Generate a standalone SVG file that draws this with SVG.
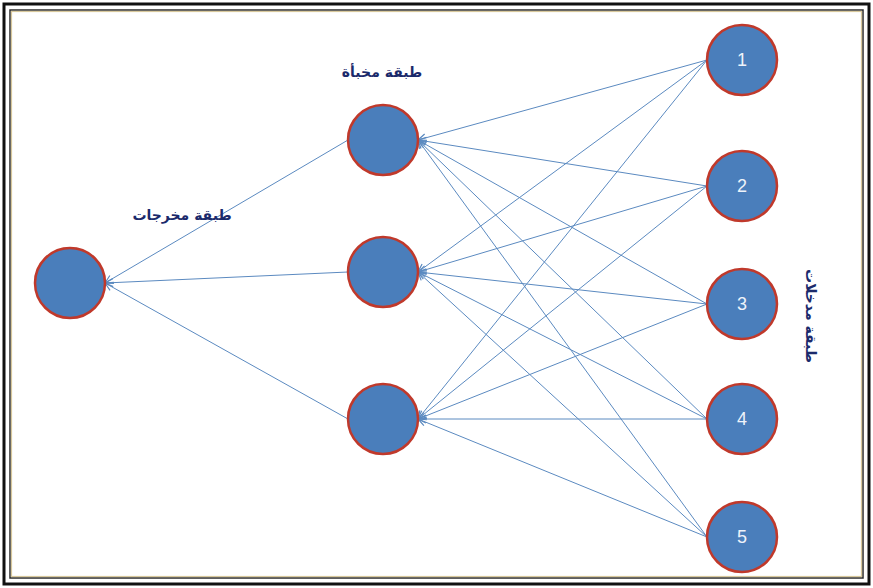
<svg xmlns="http://www.w3.org/2000/svg" width="873" height="588" viewBox="0 0 873 588">
<style>
.node{fill:#4a7ebb;stroke:#c0392b;stroke-width:2.5}
.num{font-family:"Liberation Sans",Arial,sans-serif;font-size:18px;fill:#eef3fa;text-anchor:middle}
.lbl{font-family:"DejaVu Sans",sans-serif;font-size:14px;font-weight:bold;fill:#1b2a6b;text-anchor:middle}
.edge{stroke:#5b8ac0;stroke-width:1;fill:none;marker-end:url(#arr)}
</style>
<defs>
<marker id="arr" markerWidth="10" markerHeight="10" refX="9" refY="5" orient="auto" markerUnits="userSpaceOnUse">
<path d="M1,1 L9,5 L1,9" fill="none" stroke="#5b8ac0" stroke-width="1.2"/>
</marker>
</defs>
<rect x="0" y="0" width="873" height="588" fill="#ffffff"/>
<rect x="4" y="4" width="865" height="580" fill="none" stroke="#111" stroke-width="3"/>
<rect x="10" y="10" width="853" height="568" fill="#ffffff" stroke="#2a2a2a" stroke-width="1.5"/>
<rect x="11.5" y="11.5" width="850" height="565" fill="none" stroke="#d8c89c" stroke-width="1.2"/>
<g id="connectors">
<line class="edge" x1="707" y1="60" x2="418" y2="140"/>
<line class="edge" x1="707" y1="60" x2="418" y2="272"/>
<line class="edge" x1="707" y1="60" x2="418" y2="419"/>
<line class="edge" x1="707" y1="186" x2="418" y2="140"/>
<line class="edge" x1="707" y1="186" x2="418" y2="272"/>
<line class="edge" x1="707" y1="186" x2="418" y2="419"/>
<line class="edge" x1="707" y1="304" x2="418" y2="140"/>
<line class="edge" x1="707" y1="304" x2="418" y2="272"/>
<line class="edge" x1="707" y1="304" x2="418" y2="419"/>
<line class="edge" x1="707" y1="419" x2="418" y2="140"/>
<line class="edge" x1="707" y1="419" x2="418" y2="272"/>
<line class="edge" x1="707" y1="419" x2="418" y2="419"/>
<line class="edge" x1="707" y1="537" x2="418" y2="140"/>
<line class="edge" x1="707" y1="537" x2="418" y2="272"/>
<line class="edge" x1="707" y1="537" x2="418" y2="419"/>
<line class="edge" x1="348" y1="140" x2="105" y2="283"/>
<line class="edge" x1="348" y1="272" x2="105" y2="283"/>
<line class="edge" x1="348" y1="419" x2="105" y2="283"/>
</g>
<g id="output">
<circle class="node" cx="70" cy="283" r="35"/>
<text class="lbl" x="182" y="220">طبقة مخرجات</text>
</g>
<g id="hidden1">
<circle class="node" cx="383" cy="140" r="35"/>
<text class="lbl" x="382" y="77">طبقة مخبأة</text>
</g>
<g id="hidden2"><circle class="node" cx="383" cy="272" r="35"/></g>
<g id="hidden3"><circle class="node" cx="383" cy="419" r="35"/></g>
<g id="in1"><circle class="node" cx="742" cy="60" r="35"/><text class="num" x="742" y="66">1</text></g>
<g id="in2"><circle class="node" cx="742" cy="186" r="35"/><text class="num" x="742" y="192">2</text></g>
<g id="in3"><circle class="node" cx="742" cy="304" r="35"/><text class="num" x="742" y="310">3</text></g>
<g id="in4"><circle class="node" cx="742" cy="419" r="35"/><text class="num" x="742" y="425">4</text></g>
<g id="in5"><circle class="node" cx="742" cy="537" r="35"/><text class="num" x="742" y="543">5</text></g>
<g id="input-label">
<text class="lbl" transform="translate(806,316) rotate(90)" x="0" y="0">طبقة مدخلات</text>
</g>
</svg>
